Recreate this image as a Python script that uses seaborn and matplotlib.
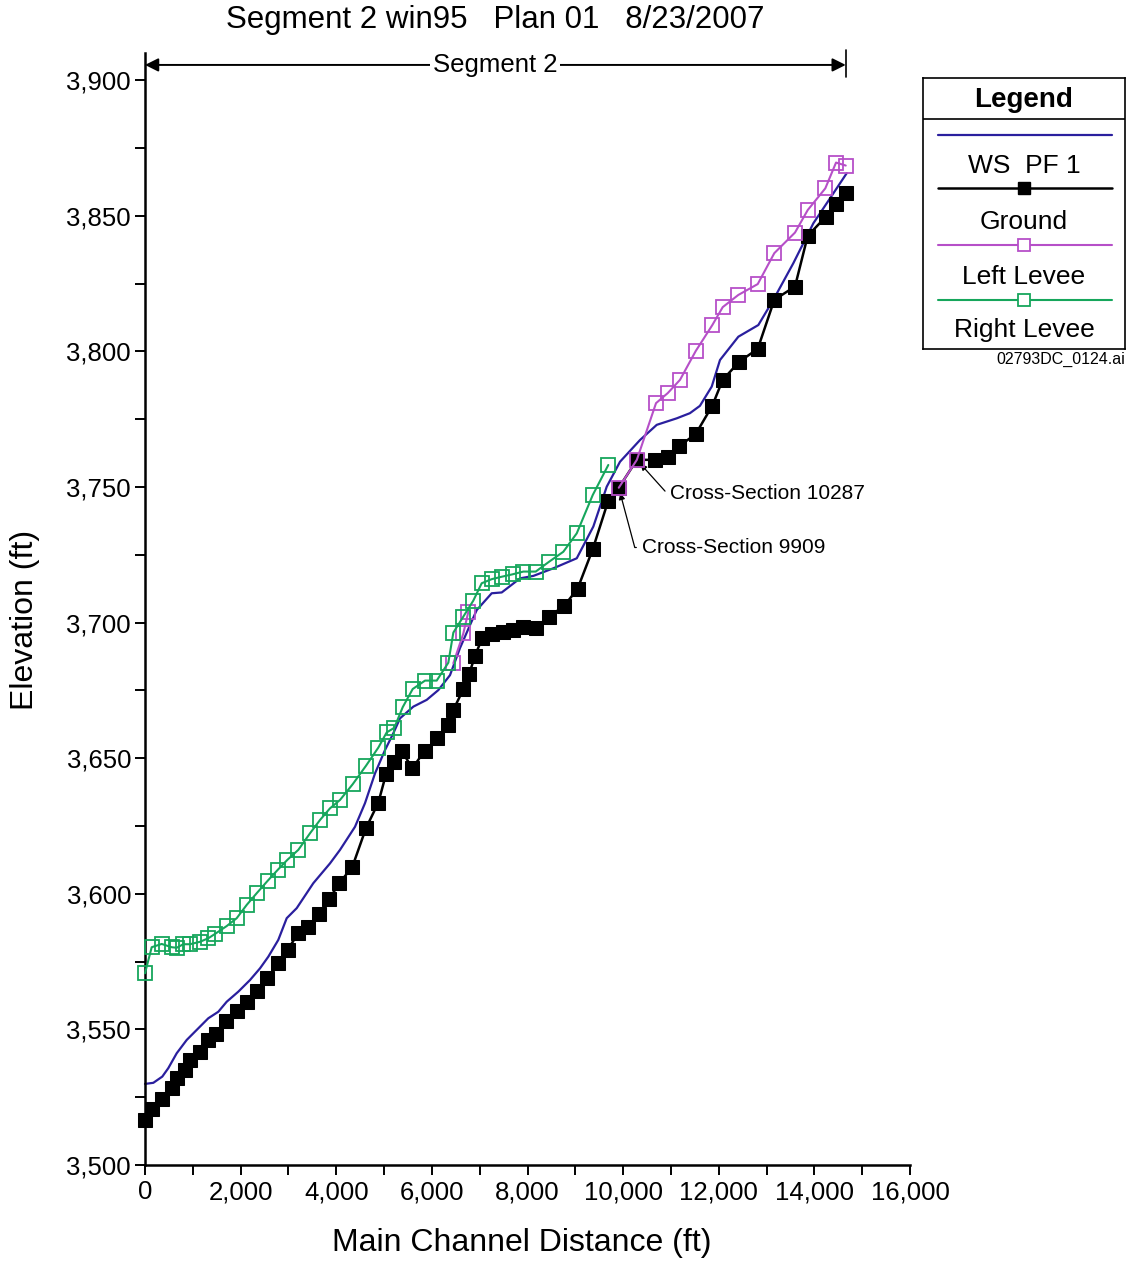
import numpy as np
import pandas as pd
import matplotlib
matplotlib.use("Agg")
import matplotlib.pyplot as plt
from matplotlib.ticker import MultipleLocator, FuncFormatter
import seaborn as sns

# ==========================================
# DATA
# ==========================================
TITLE = "Segment 2 win95   Plan 01   8/23/2007"

# WS PF 1 (blue line, no markers)
ws_x = [0, 174, 362, 487, 663, 872, 1081, 1324, 1533, 1709, 1951, 2196, 2405, 2579,
        2788, 2964, 3173, 3520, 3869, 4079, 4392, 4601, 4811, 5020, 5194, 5334, 5612,
        5892, 6135, 6379, 6588, 6798, 6938, 7251, 7461, 7844, 8122, 8540, 9030, 9377,
        9657, 9935, 10353, 10703, 11121, 11397, 11606, 11853, 12026, 12410, 12828,
        13142, 13560, 13978, 14327, 14677]
ws_y = [3529.9, 3530.3, 3532.6, 3535.7, 3541.2, 3546.1, 3549.8, 3554.1, 3556.5, 3560.2,
        3563.9, 3568.2, 3572.5, 3576.8, 3583.0, 3591.0, 3594.7, 3603.9, 3611.2, 3616.2,
        3624.7, 3633.4, 3644.4, 3653.0, 3659.2, 3664.7, 3669.0, 3671.5, 3675.1, 3680.6,
        3690.6, 3699.1, 3704.6, 3710.8, 3711.1, 3716.3, 3717.2, 3720.0, 3723.7, 3735.4,
        3750.1, 3759.3, 3767.3, 3772.9, 3775.3, 3777.2, 3779.9, 3787.0, 3796.8, 3805.4,
        3809.7, 3819.0, 3832.5, 3847.2, 3856.4, 3865.7]

# Ground (black, filled squares)
gr_x = [0, 140, 349, 558, 676, 837, 941, 1150, 1324, 1485, 1694, 1918, 2127, 2349, 2558,
        2776, 2985, 3200, 3416, 3639, 3855, 4064, 4336, 4622, 4880, 5041, 5214, 5369,
        5591, 5850, 6114, 6344, 6449, 6658, 6777, 6902, 7055, 7264, 7482, 7691, 7900,
        8172, 8450, 8764, 9046, 9364, 9690, 9909, 10287, 10667, 10933, 11176, 11518,
        11866, 12083, 12430, 12815, 13162, 13595, 13861, 14244, 14453, 14656]
gr_y = [3516.5, 3520.5, 3524.2, 3528.3, 3532.0, 3535.0, 3538.7, 3541.6, 3546.1, 3548.2,
        3553.1, 3556.8, 3560.2, 3564.2, 3568.8, 3574.4, 3579.3, 3585.4, 3587.9, 3592.5,
        3598.1, 3603.9, 3609.9, 3624.2, 3633.6, 3644.1, 3648.7, 3652.7, 3646.3, 3652.7,
        3657.3, 3662.2, 3667.8, 3675.4, 3680.9, 3687.7, 3694.4, 3695.7, 3696.4, 3697.3,
        3698.3, 3698.1, 3702.2, 3706.1, 3712.4, 3727.0, 3745.0, 3749.7, 3760.0, 3760.0,
        3761.2, 3765.1, 3769.5, 3780.0, 3789.5, 3796.2, 3800.9, 3819.0, 3823.9, 3842.6,
        3849.7, 3854.2, 3858.3]

# Left Levee (magenta, open squares) - two separate reaches
ll1_x = [6449, 6658, 6763]
ll1_y = [3685.0, 3696.0, 3704.0]
ll2_x = [9909, 10287, 10688, 10933, 11190, 11518, 11866, 12083, 12410, 12815, 13162,
         13595, 13861, 14229, 14453, 14656]
ll2_y = [3749.7, 3760.0, 3780.9, 3784.6, 3789.5, 3800.1, 3809.7, 3816.3, 3820.8, 3824.8,
         3836.2, 3843.8, 3852.1, 3860.1, 3869.6, 3868.5]

# Right Levee (green, open squares)
rl_x = [0, 140, 349, 558, 663, 801, 941, 1150, 1324, 1464, 1709, 1918, 2127, 2336, 2566,
        2775, 2977, 3207, 3451, 3660, 3869, 4079, 4344, 4622, 4880, 5055, 5214, 5390,
        5599, 5857, 6101, 6344, 6449, 6658, 6867, 7042, 7251, 7461, 7691, 7913, 8172,
        8457, 8749, 9030, 9364, 9690]
rl_y = [3570.7, 3580.3, 3581.5, 3580.3, 3580.1, 3581.4, 3581.4, 3582.3, 3583.6, 3585.2,
        3588.1, 3591.0, 3595.9, 3600.2, 3604.8, 3608.8, 3612.5, 3616.2, 3622.3, 3627.2,
        3631.5, 3634.6, 3640.4, 3647.2, 3653.9, 3659.5, 3661.2, 3668.8, 3675.5, 3678.6,
        3678.6, 3685.2, 3696.3, 3702.2, 3708.1, 3714.5, 3716.0, 3716.9, 3717.8, 3718.8,
        3718.8, 3722.5, 3726.1, 3732.9, 3747.0, 3758.1]

XS_LABELS = [(9909, 3749.7, "Cross-Section 9909"), (10287, 3760.0, "Cross-Section 10287")]

LEGEND_ITEMS = ["WS  PF 1", "Ground", "Left Levee", "Right Levee"]

C_WS = "#2a1f9e"
C_GR = "black"
C_LL = "#b64fc8"
C_RL = "#16a65c"

# ==========================================
# STYLE
# ==========================================
sns.set_style("ticks")
plt.rcParams["font.family"] = ["Liberation Sans", "DejaVu Sans"]
plt.rcParams["text.color"] = "black"
plt.rcParams["axes.labelcolor"] = "black"
plt.rcParams["xtick.color"] = "black"
plt.rcParams["ytick.color"] = "black"

W, H = 1130, 1264
fig = plt.figure(figsize=(W / 100, H / 100), dpi=100)

def fx(px):
    return px / W

def fy(py):
    return 1 - py / H

ax = fig.add_axes([fx(145), fy(1165), (910 - 145) / W, (1165 - 53) / H])

# ==========================================
# LINES
# ==========================================
sns.lineplot(x=ws_x, y=ws_y, color=C_WS, lw=1.6, sort=False, ax=ax, zorder=2)
sns.lineplot(x=gr_x, y=gr_y, color=C_GR, lw=1.8, marker="s", markersize=10,
             markeredgecolor="black", sort=False, ax=ax, zorder=3)
for xs, ys in [(ll1_x, ll1_y), (ll2_x, ll2_y)]:
    sns.lineplot(x=xs, y=ys, color=C_LL, lw=1.5, marker="s", markersize=9.5,
                 markerfacecolor="none", markeredgecolor=C_LL, markeredgewidth=1.3,
                 sort=False, ax=ax, zorder=4)
sns.lineplot(x=rl_x, y=rl_y, color=C_RL, lw=1.5, marker="s", markersize=9.5,
             markerfacecolor="none", markeredgecolor=C_RL, markeredgewidth=1.3,
             sort=False, ax=ax, zorder=4)
for ln in ax.get_lines():
    ln.set_clip_on(False)

# ==========================================
# AXES
# ==========================================
ax.set_xlim(0, 16000)
ax.set_ylim(3500, 3910)
ax.xaxis.set_major_locator(MultipleLocator(2000))
ax.xaxis.set_minor_locator(MultipleLocator(1000))
ax.yaxis.set_major_locator(MultipleLocator(50))
ax.yaxis.set_minor_locator(MultipleLocator(25))
ax.yaxis.set_major_formatter(FuncFormatter(lambda v, p: f"{v:,.0f}" if v <= 3900 else ""))
ax.xaxis.set_major_formatter(FuncFormatter(lambda v, p: f"{v:,.0f}"))
ax.tick_params(which="both", direction="out", length=7, width=1.4, colors="black",
               labelsize=18.5)
ax.tick_params(axis="x", pad=4)
ax.tick_params(axis="y", pad=3)
for s in ["top", "right"]:
    ax.spines[s].set_visible(False)
for s in ["left", "bottom"]:
    ax.spines[s].set_linewidth(1.8)
    ax.spines[s].set_color("black")
ax.set_xlabel("")
ax.set_ylabel("")

fig.text(fx(522), fy(1243), "Main Channel Distance (ft)", ha="center", va="center", fontsize=23)
fig.text(fx(25), fy(620), "Elevation (ft)", ha="center", va="center", rotation=90, fontsize=23)
fig.text(fx(495), fy(20), TITLE, ha="center", va="center", fontsize=22.5)

# segment marker
seg_end = gr_x[-1]
ax.annotate("", xy=(0, 3905.6), xytext=(seg_end, 3905.6),
            arrowprops=dict(arrowstyle="<|-|>", color="black", lw=1.4, mutation_scale=20,
                            shrinkA=0, shrinkB=0), annotation_clip=False)
ax.plot([seg_end, seg_end], [3901, 3911], color="black", lw=1.2, clip_on=False)
ax.text(seg_end / 2, 3905.6, "Segment 2", ha="center", va="center", fontsize=18.5,
        bbox=dict(facecolor="white", edgecolor="none", pad=2))

# cross-section callouts
offsets = {"Cross-Section 9909": ((17, -43), -75), "Cross-Section 10287": ((24, -24), -48)}
for xv, yv, lab in XS_LABELS:
    off, angB = offsets[lab]
    ax.annotate(lab, xy=(xv, yv), xytext=off, textcoords="offset points",
                ha="left", va="center", fontsize=15,
                arrowprops=dict(arrowstyle="-|>", color="black", lw=0.9, mutation_scale=9,
                                shrinkA=2, shrinkB=4,
                                connectionstyle=f"angle,angleA=0,angleB={angB},rad=0"))

# ==========================================
# LEGEND BOX
# ==========================================
lax = fig.add_axes([fx(923), fy(349), (1125 - 923) / W, (349 - 78) / H])
lax.set_xlim(923, 1125)
lax.set_ylim(349, 78)
lax.set_xticks([])
lax.set_yticks([])
for s in lax.spines.values():
    s.set_linewidth(1.2)
    s.set_color("black")
lax.axhline(119, color="black", lw=1.2)
lax.text(1024, 100, "Legend", ha="center", va="center", fontsize=20, fontweight="bold")
sample_y = [135, 188, 245, 300]
label_y = [166, 222, 277, 330]
styles = [dict(color=C_WS, lw=1.6),
          dict(color=C_GR, lw=1.8, marker="s", markersize=10),
          dict(color=C_LL, lw=1.5, marker="s", markersize=9.5, markerfacecolor="white",
               markeredgewidth=1.3),
          dict(color=C_RL, lw=1.5, marker="s", markersize=9.5, markerfacecolor="white",
               markeredgewidth=1.3)]
for yl, st in zip(sample_y, styles):
    lax.plot([938, 1112], [yl, yl], color=st["color"], lw=st["lw"])
    if "marker" in st:
        lax.plot([1024], [yl], linestyle="none", marker="s", markersize=st["markersize"] * 0.9,
                 color=st["color"], markerfacecolor=st.get("markerfacecolor", st["color"]),
                 markeredgewidth=st.get("markeredgewidth", 1))
for yl, lab in zip(label_y, LEGEND_ITEMS):
    lax.text(1024, yl, lab, ha="center", va="center", fontsize=19)
fig.text(fx(1125), fy(359), "02793DC_0124.ai", ha="right", va="center", fontsize=11.5)

fig.savefig("out.png", dpi=100)
